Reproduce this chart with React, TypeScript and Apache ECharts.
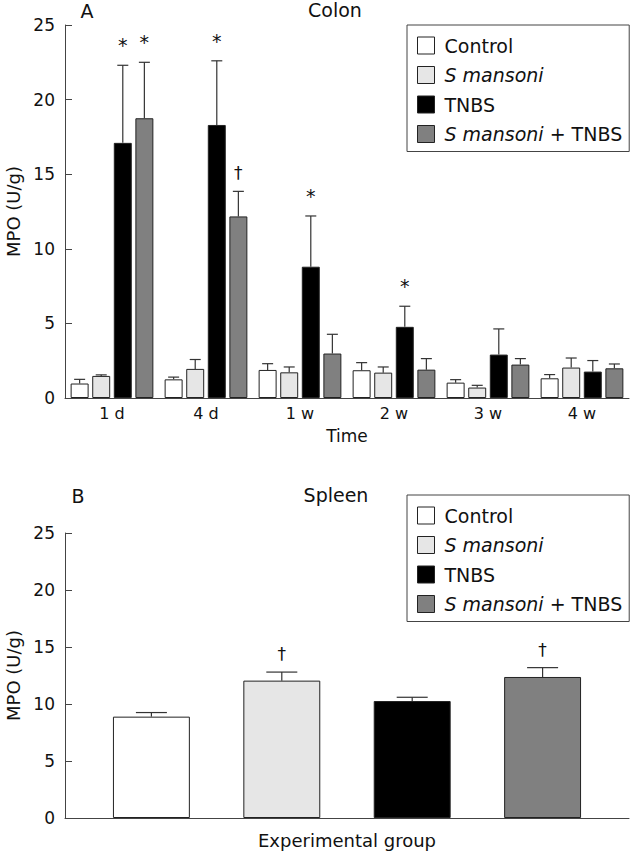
import React, { useEffect, useRef } from "react";
import * as echarts from "echarts";

// ---------- data ----------
const TIME_LABELS = ["1 d", "4 d", "1 w", "2 w", "3 w", "4 w"];
const GROUP_NAMES = ["Control", "S mansoni", "TNBS", "S mansoni + TNBS"];
const GROUP_COLORS = ["#ffffff", "#e6e6e6", "#000000", "#808080"];

// Colon (panel A): mean MPO and SEM per time point
const COLON_CONTROL = [0.97, 1.25, 1.88, 1.86, 1.03, 1.32];
const COLON_CONTROL_SEM = [0.28, 0.15, 0.42, 0.51, 0.2, 0.25];
const COLON_SMANSONI = [1.48, 1.95, 1.72, 1.7, 0.7, 2.04];
const COLON_SMANSONI_SEM = [0.07, 0.63, 0.36, 0.38, 0.15, 0.64];
const COLON_TNBS = [17.1, 18.3, 8.8, 4.77, 2.91, 1.77];
const COLON_TNBS_SEM = [5.2, 4.3, 3.4, 1.38, 1.72, 0.74];
const COLON_SM_TNBS = [18.75, 12.17, 2.98, 1.9, 2.24, 1.99];
const COLON_SM_TNBS_SEM = [3.75, 1.68, 1.29, 0.74, 0.4, 0.29];
const COLON_CONTROL_MARKS = ["", "", "", "", "", ""];
const COLON_SMANSONI_MARKS = ["", "", "", "", "", ""];
const COLON_TNBS_MARKS = ["*", "*", "*", "*", "", ""];
const COLON_SM_TNBS_MARKS = ["*", "\u2020", "", "", "", ""];

// Spleen (panel B): one value per group
const SPLEEN_MEANS = [8.89, 12.05, 10.26, 12.37];
const SPLEEN_SEM = [0.36, 0.75, 0.33, 0.82];
const SPLEEN_MARKS = ["", "\u2020", "", "\u2020"];

const Y_MIN = 0;
const Y_MAX = 25;
const Y_INTERVAL = 5;

const FONT = "DejaVu Sans";

// bar layout parameters
const TOP_CAT_GAP = 0.12;
const TOP_BAR_GAP = 0.2;
const BOT_CAT_GAP = 0.17;
const BOT_BAR_GAP = 0.695;

function makeErrRender(catGap: number, barGap: number, n: number, capW: number, marks: string[]) {
  return (params: any, api: any) => {
    const cat = api.value(0);
    const mean = api.value(1);
    const up = api.value(2);
    const si = api.value(3);
    const band = api.size([1, 0])[0];
    const remaining = band * (1 - catGap);
    const bw = remaining / (n + (n - 1) * barGap);
    const p0 = api.coord([cat, mean]);
    const p1 = api.coord([cat, up]);
    const x = p0[0] - remaining / 2 + si * bw * (1 + barGap) + bw / 2;
    const children: any[] = [
      {
        type: "line",
        shape: { x1: x, y1: p0[1], x2: x, y2: p1[1] },
        style: { stroke: "#333", lineWidth: 1.2 },
      },
      {
        type: "line",
        shape: { x1: x - capW / 2, y1: p1[1], x2: x + capW / 2, y2: p1[1] },
        style: { stroke: "#333", lineWidth: 1.2 },
      },
    ];
    const m = marks[params.dataIndex];
    if (m) {
      const isStar = m === "*";
      children.push({
        type: "text",
        x,
        y: p1[1] - (isStar ? 20 : 18),
        style: {
          text: m,
          fontSize: isStar ? 19 : 17,
          fontFamily: FONT,
          fill: "#111",
          align: "center",
          verticalAlign: "middle",
        },
      });
    }
    return { type: "group", children };
  };
}

const legendFormatter = (name: string) =>
  name.startsWith("S mansoni") ? "{i|S mansoni}" + name.slice(9) : name;

function makeLegend(top: number) {
  return {
    data: GROUP_NAMES,
    orient: "vertical",
    left: 407,
    top,
    padding: [11, 7, 8, 10],
    itemGap: 10.5,
    itemWidth: 17,
    itemHeight: 17,
    icon: "rect",
    borderColor: "#444",
    borderWidth: 1,
    selectedMode: false,
    itemStyle: { borderColor: "#222", borderWidth: 1 },
    formatter: legendFormatter,
    textStyle: {
      fontFamily: FONT,
      fontSize: 19,
      lineHeight: 19,
      color: "#111",
      padding: [0, 0, 0, 5],
      rich: {
        i: { fontFamily: FONT, fontSize: 19, lineHeight: 19, fontStyle: "italic", color: "#111" },
      },
    },
  };
}

function makeYAxis(gridIndex: number) {
  return {
    gridIndex,
    type: "value",
    min: Y_MIN,
    max: Y_MAX,
    interval: Y_INTERVAL,
    name: "MPO (U/g)",
    nameLocation: "middle",
    nameGap: 43,
    nameTextStyle: { fontFamily: FONT, fontSize: 18, color: "#111" },
    axisLine: { show: true, lineStyle: { color: "#444", width: 1 } },
    axisTick: { show: true, inside: true, length: 7, lineStyle: { color: "#444" } },
    axisLabel: { fontFamily: FONT, fontSize: 17, color: "#111", margin: 10 },
    splitLine: { show: false },
  };
}

export default function App() {
  const ref = useRef<HTMLDivElement>(null);
  useEffect(() => {
    if (!ref.current) return;
    const chart = echarts.init(ref.current, undefined, { renderer: "svg" });

    const colonMeans = [COLON_CONTROL, COLON_SMANSONI, COLON_TNBS, COLON_SM_TNBS];
    const colonSems = [COLON_CONTROL_SEM, COLON_SMANSONI_SEM, COLON_TNBS_SEM, COLON_SM_TNBS_SEM];
    const colonMarks = [COLON_CONTROL_MARKS, COLON_SMANSONI_MARKS, COLON_TNBS_MARKS, COLON_SM_TNBS_MARKS];

    const colonErrData: number[][] = [];
    const colonErrMarks: string[] = [];
    colonMeans.forEach((arr, si) => {
      arr.forEach((v, ci) => {
        colonErrData.push([ci, v, v + colonSems[si][ci], si]);
        colonErrMarks.push(colonMarks[si][ci]);
      });
    });
    const spleenErrData = SPLEEN_MEANS.map((v, si) => [0, v, v + SPLEEN_SEM[si], si]);

    const barSeries: any[] = [];
    GROUP_NAMES.forEach((name, si) => {
      barSeries.push({
        type: "bar",
        name,
        xAxisIndex: 0,
        yAxisIndex: 0,
        data: colonMeans[si],
        barCategoryGap: `${TOP_CAT_GAP * 100}%`,
        barGap: `${TOP_BAR_GAP * 100}%`,
        itemStyle: { color: GROUP_COLORS[si], borderColor: "#222", borderWidth: 1 },
      });
    });
    GROUP_NAMES.forEach((name, si) => {
      barSeries.push({
        type: "bar",
        name,
        xAxisIndex: 1,
        yAxisIndex: 1,
        data: [SPLEEN_MEANS[si]],
        barCategoryGap: `${BOT_CAT_GAP * 100}%`,
        barGap: `${BOT_BAR_GAP * 100}%`,
        itemStyle: { color: GROUP_COLORS[si], borderColor: "#222", borderWidth: 1 },
      });
    });

    const textEl = (text: string, x: number, y: number, size: number) => ({
      type: "text",
      x,
      y,
      style: {
        text,
        fontFamily: FONT,
        fontSize: size,
        fill: "#111",
        align: "center",
        verticalAlign: "middle",
      },
    });

    chart.setOption({
      animation: false,
      backgroundColor: "#ffffff",
      grid: [
        { left: 65, top: 25, width: 564, height: 373, outerBoundsMode: "none", containLabel: false },
        { left: 65, top: 533, width: 564, height: 285, outerBoundsMode: "none", containLabel: false },
      ],
      xAxis: [
        {
          gridIndex: 0,
          type: "category",
          data: TIME_LABELS,
          name: "Time",
          nameLocation: "middle",
          nameGap: 29,
          nameTextStyle: { fontFamily: FONT, fontSize: 17, color: "#111" },
          axisLine: { lineStyle: { color: "#444", width: 1 } },
          axisTick: { inside: true, length: 8, lineStyle: { color: "#444" } },
          axisLabel: { fontFamily: FONT, fontSize: 16, color: "#111", margin: 7 },
        },
        {
          gridIndex: 1,
          type: "category",
          data: [""],
          name: "Experimental group",
          nameLocation: "middle",
          nameGap: 13,
          nameTextStyle: { fontFamily: FONT, fontSize: 18, color: "#111" },
          axisLine: { lineStyle: { color: "#444", width: 1 } },
          axisTick: { inside: true, length: 8, lineStyle: { color: "#444" } },
          axisLabel: { show: false },
        },
      ],
      yAxis: [makeYAxis(0), makeYAxis(1)],
      legend: [makeLegend(25), makeLegend(495)],
      graphic: [
        textEl("A", 87, 11, 19),
        textEl("Colon", 335, 10, 19),
        textEl("B", 78, 496, 19),
        textEl("Spleen", 336, 495, 19),
      ],
      series: [
        ...barSeries,
        {
          type: "custom",
          name: "colon-error",
          xAxisIndex: 0,
          yAxisIndex: 0,
          data: colonErrData,
          encode: { x: 0, y: 2 },
          z: 5,
          renderItem: makeErrRender(TOP_CAT_GAP, TOP_BAR_GAP, 4, 11, colonErrMarks),
        },
        {
          type: "custom",
          name: "spleen-error",
          xAxisIndex: 1,
          yAxisIndex: 1,
          data: spleenErrData,
          encode: { x: 0, y: 2 },
          z: 5,
          renderItem: makeErrRender(BOT_CAT_GAP, BOT_BAR_GAP, 4, 31, SPLEEN_MARKS),
        },
      ],
    });
    return () => chart.dispose();
  }, []);
  return (
    <div
      ref={ref}
      style={{ position: "absolute", left: 0, top: 0, width: 630, height: 853, background: "#fff" }}
    />
  );
}
